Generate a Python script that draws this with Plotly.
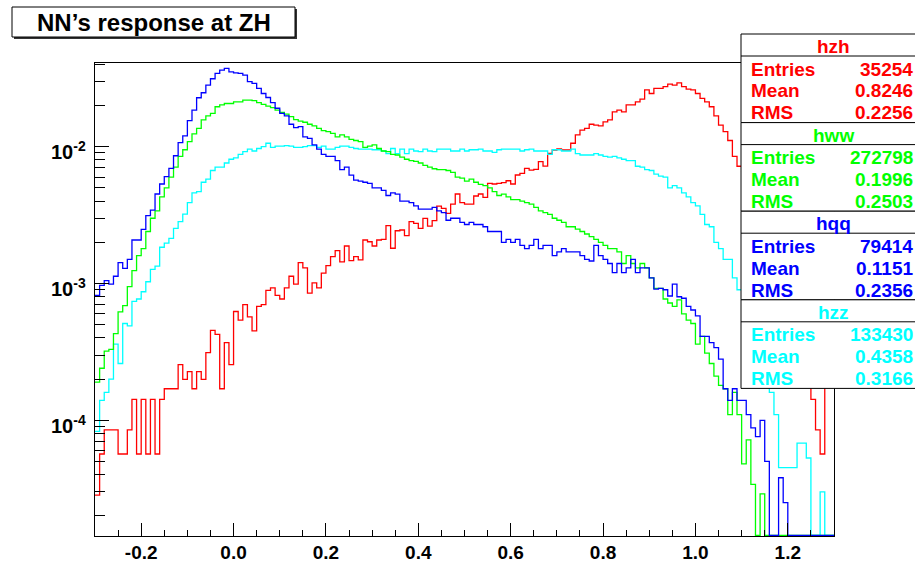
import numpy as np
import plotly.graph_objects as go

# ---------------- data ----------------
X_MIN, X_MAX, N_BINS = -0.3, 1.3, 160

hzh = [
    2.84e-5, 5.67e-5, 8.5e-5, 8.5e-5, 8.5e-5, 5.67e-5, 5.67e-5, 8.5e-5, 1.42e-4, 5.67e-5,
    1.42e-4, 5.67e-5, 1.42e-4, 5.67e-5, 1.42e-4, 1.70e-4, 1.70e-4, 1.70e-4, 2.55e-4, 1.99e-4,
    2.27e-4, 1.70e-4, 2.27e-4, 1.99e-4, 3.12e-4, 4.54e-4, 4.25e-4, 1.70e-4, 3.69e-4, 2.55e-4,
    6.24e-4, 5.39e-4, 7.0e-4, 5.7e-4, 4.5e-4, 6.8e-4, 7.0e-4, 8.9e-4, 9.3e-4, 8.2e-4,
    7.7e-4, 9.3e-4, 1.13e-3, 9.9e-4, 1.42e-3, 1.30e-3, 8.5e-4, 1.01e-3, 9.3e-4, 1.19e-3,
    1.35e-3, 1.57e-3, 1.74e-3, 1.44e-3, 1.88e-3, 1.47e-3, 1.57e-3, 1.49e-3, 2.08e-3, 2.02e-3,
    1.88e-3, 2.08e-3, 2.10e-3, 2.65e-3, 1.81e-3, 2.43e-3, 2.46e-3, 2.24e-3, 2.83e-3, 2.75e-3,
    2.53e-3, 2.99e-3, 2.63e-3, 2.88e-3, 3.68e-3, 3.54e-3, 3.26e-3, 3.81e-3, 4.51e-3, 3.90e-3,
    3.81e-3, 3.81e-3, 4.36e-3, 4.51e-3, 4.26e-3, 5.40e-3, 5.34e-3, 5.40e-3, 5.46e-3, 5.64e-3,
    5.34e-3, 6.21e-3, 6.38e-3, 6.94e-3, 6.75e-3, 6.83e-3, 7.77e-3, 7.22e-3, 8.94e-3, 9.46e-3,
    9.62e-3, 9.46e-3, 9.46e-3, 1.06e-2, 1.22e-2, 1.32e-2, 1.36e-2, 1.46e-2, 1.44e-2, 1.42e-2,
    1.52e-2, 1.57e-2, 1.80e-2, 1.85e-2, 1.80e-2, 2.02e-2, 2.02e-2, 2.13e-2, 2.23e-2, 2.60e-2,
    2.45e-2, 2.67e-2, 2.67e-2, 2.75e-2, 2.87e-2, 2.82e-2, 2.93e-2, 2.75e-2, 2.64e-2, 2.60e-2,
    2.45e-2, 2.26e-2, 2.13e-2, 1.96e-2, 1.68e-2, 1.44e-2, 1.29e-2, 1.11e-2, 8.5e-3, 7.2e-3,
    6.0e-3, 5.0e-3, 4.1e-3, 3.3e-3, 2.6e-3, 2.0e-3, 1.6e-3, 1.2e-3, 9.0e-4, 7.1e-4,
    5.4e-4, 4.3e-4, 3.4e-4, 2.8e-4, 1.99e-4, 1.42e-4, 8.5e-5, 5.67e-5, 2.27e-4, 2.84e-4,
]

hww = [
    1.9e-4, 2.4e-4, 3.2e-4, 3.3e-4, 4.3e-4, 6.2e-4, 6.9e-4, 9.5e-4, 1.24e-3, 1.6e-3,
    1.8e-3, 2.4e-3, 3.0e-3, 3.4e-3, 4.3e-3, 5.0e-3, 6.0e-3, 7.1e-3, 8.5e-3, 9.5e-3,
    1.09e-2, 1.24e-2, 1.36e-2, 1.57e-2, 1.68e-2, 1.75e-2, 1.96e-2, 2.02e-2, 2.07e-2, 2.07e-2,
    2.13e-2, 2.13e-2, 2.19e-2, 2.19e-2, 2.17e-2, 2.10e-2, 2.04e-2, 1.98e-2, 1.93e-2, 1.85e-2,
    1.78e-2, 1.73e-2, 1.66e-2, 1.58e-2, 1.54e-2, 1.51e-2, 1.46e-2, 1.42e-2, 1.36e-2, 1.31e-2,
    1.29e-2, 1.25e-2, 1.18e-2, 1.22e-2, 1.18e-2, 1.13e-2, 1.11e-2, 1.09e-2, 9.9e-3, 1.01e-2,
    1.03e-2, 9.7e-3, 9.3e-3, 9.2e-3, 8.8e-3, 8.7e-3, 8.4e-3, 8.1e-3, 7.9e-3, 7.8e-3,
    7.6e-3, 7.3e-3, 7.1e-3, 6.9e-3, 6.8e-3, 6.8e-3, 6.7e-3, 6.5e-3, 6.0e-3, 5.9e-3,
    5.6e-3, 5.8e-3, 5.5e-3, 5.3e-3, 5.2e-3, 5.0e-3, 4.7e-3, 4.4e-3, 4.5e-3, 4.3e-3,
    4.1e-3, 4.1e-3, 4.0e-3, 3.9e-3, 3.8e-3, 3.6e-3, 3.4e-3, 3.3e-3, 3.2e-3, 3.0e-3,
    2.9e-3, 2.8e-3, 2.6e-3, 2.6e-3, 2.5e-3, 2.4e-3, 2.3e-3, 2.2e-3, 2.1e-3, 2.0e-3,
    1.9e-3, 1.8e-3, 1.8e-3, 1.7e-3, 1.4e-3, 1.6e-3, 1.4e-3, 1.3e-3, 1.4e-3, 1.3e-3,
    1.1e-3, 9.2e-4, 9.2e-4, 7.7e-4, 7.2e-4, 6.8e-4, 7.6e-4, 6.0e-4, 5.4e-4, 5.1e-4,
    3.6e-4, 4.1e-4, 3.1e-4, 2.6e-4, 2.1e-4, 1.8e-4, 1.7e-4, 1.1e-4, 1.6e-4, 1.1e-4,
    4.8e-5, 7.2e-5, 3.4e-5, 0, 2.9e-5, 0, 0, 0, 0, 0,
    0, 0, 0, 0, 0, 0, 0, 0, 0, 0,
]

hqq = [
    8.2e-4, 9.7e-4, 1.05e-3, 9.9e-4, 1.13e-3, 1.42e-3, 1.29e-3, 1.50e-3, 2.08e-3, 2.08e-3,
    2.49e-3, 3.13e-3, 3.44e-3, 4.51e-3, 5.34e-3, 6.04e-3, 6.94e-3, 8.59e-3, 1.07e-2, 1.20e-2,
    1.55e-2, 1.85e-2, 2.28e-2, 2.48e-2, 2.82e-2, 3.14e-2, 3.44e-2, 3.63e-2, 3.74e-2, 3.53e-2,
    3.47e-2, 3.44e-2, 3.34e-2, 2.99e-2, 2.90e-2, 2.67e-2, 2.45e-2, 2.29e-2, 2.10e-2, 1.91e-2,
    1.75e-2, 1.68e-2, 1.46e-2, 1.38e-2, 1.40e-2, 1.18e-2, 1.15e-2, 1.03e-2, 9.6e-3, 8.8e-3,
    8.5e-3, 8.5e-3, 7.9e-3, 6.8e-3, 7.1e-3, 6.2e-3, 5.7e-3, 5.6e-3, 5.5e-3, 5.4e-3,
    5.0e-3, 5.0e-3, 4.8e-3, 4.4e-3, 4.6e-3, 4.5e-3, 4.0e-3, 4.0e-3, 3.9e-3, 3.7e-3,
    3.5e-3, 3.5e-3, 3.5e-3, 3.6e-3, 3.4e-3, 3.3e-3, 2.9e-3, 3.0e-3, 3.0e-3, 2.8e-3,
    2.7e-3, 2.8e-3, 2.7e-3, 2.7e-3, 2.6e-3, 2.4e-3, 2.4e-3, 2.4e-3, 2.0e-3, 2.1e-3,
    2.0e-3, 2.1e-3, 1.9e-3, 1.8e-3, 1.9e-3, 2.1e-3, 1.8e-3, 1.9e-3, 1.9e-3, 1.6e-3,
    1.7e-3, 1.8e-3, 1.7e-3, 1.7e-3, 1.7e-3, 1.6e-3, 1.5e-3, 1.46e-3, 1.9e-3, 1.6e-3,
    1.5e-3, 1.4e-3, 1.2e-3, 1.4e-3, 1.2e-3, 1.3e-3, 1.5e-3, 1.2e-3, 1.3e-3, 1.3e-3,
    1.1e-3, 9.1e-4, 9.2e-4, 9.0e-4, 8.1e-4, 9.9e-4, 8.0e-4, 7.8e-4, 6.8e-4, 6.4e-4,
    5.8e-4, 4.1e-4, 4.1e-4, 3.7e-4, 3.4e-4, 2.8e-4, 1.7e-4, 1.4e-4, 1.7e-4, 1.4e-4,
    1.4e-4, 1.1e-4, 8.8e-5, 7.6e-5, 1.0e-4, 5.0e-5, 0, 0, 3.8e-5, 2.5e-5,
    0, 0, 0, 0, 0, 0, 0, 0, 0, 0,
]

hzz = [
    8.3e-5, 1.4e-4, 1.6e-4, 2.0e-4, 3.6e-4, 2.6e-4, 5.1e-4, 4.9e-4, 7.4e-4, 7.7e-4,
    8.7e-4, 1.03e-3, 1.27e-3, 1.34e-3, 1.84e-3, 1.97e-3, 2.14e-3, 2.53e-3, 2.83e-3, 3.22e-3,
    3.9e-3, 4.6e-3, 4.7e-3, 5.5e-3, 5.8e-3, 6.7e-3, 7.1e-3, 7.1e-3, 7.6e-3, 8.1e-3,
    8.3e-3, 8.8e-3, 9.2e-3, 9.6e-3, 9.3e-3, 9.7e-3, 1.00e-2, 1.06e-2, 9.9e-3, 1.01e-2,
    1.01e-2, 1.02e-2, 1.01e-2, 9.9e-3, 9.9e-3, 1.00e-2, 1.02e-2, 1.02e-2, 9.9e-3, 1.01e-2,
    9.6e-3, 9.6e-3, 9.9e-3, 1.01e-2, 1.01e-2, 9.9e-3, 9.7e-3, 9.6e-3, 9.6e-3, 9.6e-3,
    9.5e-3, 9.5e-3, 9.3e-3, 8.9e-3, 9.7e-3, 8.9e-3, 9.6e-3, 8.9e-3, 9.6e-3, 9.3e-3,
    9.2e-3, 9.6e-3, 9.3e-3, 9.2e-3, 9.6e-3, 9.6e-3, 9.6e-3, 9.3e-3, 9.3e-3, 9.6e-3,
    9.3e-3, 9.5e-3, 9.5e-3, 9.6e-3, 9.3e-3, 9.3e-3, 9.1e-3, 9.5e-3, 9.6e-3, 9.6e-3,
    9.6e-3, 9.6e-3, 9.3e-3, 9.5e-3, 9.6e-3, 9.3e-3, 9.3e-3, 9.3e-3, 8.8e-3, 9.5e-3,
    9.5e-3, 9.3e-3, 9.3e-3, 9.6e-3, 8.9e-3, 8.7e-3, 8.7e-3, 8.7e-3, 8.9e-3, 8.7e-3,
    8.5e-3, 8.4e-3, 8.5e-3, 8.3e-3, 8.1e-3, 7.9e-3, 7.9e-3, 7.2e-3, 7.1e-3, 6.8e-3,
    6.7e-3, 6.3e-3, 6.1e-3, 6.0e-3, 5.0e-3, 5.2e-3, 5.0e-3, 4.6e-3, 4.3e-3, 3.9e-3,
    3.7e-3, 3.2e-3, 2.7e-3, 2.6e-3, 2.0e-3, 1.8e-3, 1.5e-3, 1.5e-3, 1.1e-3, 9.0e-4,
    7.6e-4, 6.0e-4, 4.8e-4, 3.6e-4, 2.8e-4, 2.1e-4, 1.6e-4, 1.1e-4, 4.5e-5, 4.5e-5,
    4.5e-5, 4.5e-5, 6.8e-5, 6.8e-5, 5.3e-5, 0, 0, 3.0e-5, 0, 0,
]

hist_names = ["hzh", "hww", "hqq", "hzz"]
hist_colors = ["#ff0000", "#00ff00", "#0000ff", "#00ffff"]
hist_entries = [35254, 272798, 79414, 133430]
hist_mean = [0.8246, 0.1996, 0.1151, 0.4358]
hist_rms = [0.2256, 0.2503, 0.2356, 0.3166]

x_tick_vals = [-0.2, 0.0, 0.2, 0.4, 0.6, 0.8, 1.0, 1.2]
x_tick_text = ["-0.2", "0.0", "0.2", "0.4", "0.6", "0.8", "1.0", "1.2"]
y_tick_vals = [1e-4, 1e-3, 1e-2]
y_tick_text = ["10<sup>-4</sup>", "10<sup>-3</sup>", "10<sup>-2</sup>"]
title_text = "NN\u2019s response at ZH"

# ---------------- figure ----------------
W, H = 915, 562
PLOT_L, PLOT_R, PLOT_T, PLOT_B = 95, 834, 63, 536
ML, MR, MT, MB = PLOT_L, W - PLOT_R, PLOT_T, H - PLOT_B
Y_RANGE = [-4.846, -1.388]
FONT = "Liberation Sans, Arial, Helvetica, sans-serif"

series = {"hzh": hzh, "hww": hww, "hqq": hqq, "hzz": hzz}
edges = np.linspace(X_MIN, X_MAX, N_BINS + 1)
floor_val = 10 ** (Y_RANGE[0] + 0.004)

fig = go.Figure()
for name in ["hzh", "hzz", "hww", "hqq"]:
    i = hist_names.index(name)
    vals = np.asarray(series[name], dtype=float)
    disp = np.where(vals > 0, vals, floor_val)
    y = np.append(disp, disp[-1])
    fig.add_trace(go.Scatter(
        x=edges, y=y, mode="lines",
        line=dict(color=hist_colors[i], width=1.3, shape="hv"),
        showlegend=False, hoverinfo="skip",
    ))

minor_y = [m * 10.0 ** e for e in range(-5, -1) for m in range(2, 10)]

fig.update_layout(
    width=W, height=H,
    margin=dict(l=ML, r=MR, t=MT, b=MB, autoexpand=False),
    paper_bgcolor="white", plot_bgcolor="white",
    showlegend=False,
    xaxis=dict(
        range=[X_MIN, X_MAX], tickmode="array", tickvals=x_tick_vals, ticktext=x_tick_text,
        ticks="inside", ticklen=13, tickwidth=1, tickcolor="black",
        showline=True, linecolor="black", linewidth=1, mirror=True,
        showgrid=False, zeroline=False, automargin=False,
        minor=dict(dtick=0.05, tick0=0, ticks="inside", ticklen=6, tickwidth=1,
                   tickcolor="black", showgrid=False),
        tickfont=dict(family=FONT, size=19, color="black", weight="bold"),
        ticklabelstandoff=-1,
    ),
    yaxis=dict(
        type="log", range=Y_RANGE, tickmode="array", tickvals=y_tick_vals,
        ticks="inside", ticklen=14, tickwidth=1, tickcolor="black",
        showline=True, linecolor="black", linewidth=1, mirror=True,
        showgrid=False, zeroline=False, automargin=False, showticklabels=False,
        minor=dict(tickmode="array", tickvals=minor_y, ticks="inside", ticklen=10,
                   tickwidth=1, tickcolor="black", showgrid=False),
    ),
)

PW, PH = W - ML - MR, H - MT - MB


def fx(px):
    return (px - ML) / PW


def fy(py):
    return (H - MB - py) / PH


shapes = []
annotations = []

# y tick labels (10^n), placed like the ROOT labels
for v, t in zip(y_tick_vals, y_tick_text):
    annotations.append(dict(xref="paper", yref="y", x=0, y=np.log10(v), text=t,
                            showarrow=False, xanchor="right", yanchor="middle",
                            xshift=-7, yshift=-4,
                            font=dict(family=FONT, size=20, color="black", weight="bold")))

# title box with shadow
shapes.append(dict(type="rect", xref="paper", yref="paper",
                   x0=fx(14), x1=fx(297), y0=fy(39), y1=fy(9),
                   fillcolor="#333333", line=dict(width=0), layer="above"))
shapes.append(dict(type="rect", xref="paper", yref="paper",
                   x0=fx(12), x1=fx(295), y0=fy(37), y1=fy(7),
                   fillcolor="white", line=dict(color="black", width=1), layer="above"))
annotations.append(dict(xref="paper", yref="paper", x=fx(154), y=fy(22.5),
                        text=title_text, showarrow=False, xanchor="center", yanchor="middle",
                        font=dict(family=FONT, size=24, color="black", weight="bold")))

# stats boxes
BOX_L, BOX_R, BOX_TOP0, BOX_H = 741, 926, 34, 88.6
for i, name in enumerate(hist_names):
    top = BOX_TOP0 + BOX_H * i
    bot = top + BOX_H
    col = hist_colors[i]
    shapes.append(dict(type="rect", xref="paper", yref="paper",
                       x0=fx(BOX_L), x1=fx(BOX_R), y0=fy(bot), y1=fy(top),
                       fillcolor="white", line=dict(color="black", width=1), layer="above"))
    shapes.append(dict(type="line", xref="paper", yref="paper",
                       x0=fx(BOX_L), x1=fx(BOX_R), y0=fy(top + 22), y1=fy(top + 22),
                       line=dict(color="black", width=1), layer="above"))
    annotations.append(dict(xref="paper", yref="paper", x=fx((BOX_L + BOX_R) / 2), y=fy(top + 12.5),
                            text=name, showarrow=False, xanchor="center", yanchor="middle",
                            font=dict(family=FONT, size=19, color=col, weight="bold")))
    rows = [("Entries", f"{hist_entries[i]}"),
            ("Mean", f"{hist_mean[i]:.4f}"),
            ("RMS", f"{hist_rms[i]:.4f}")]
    for j, (lab, val) in enumerate(rows):
        yc = top + 35 + 21.9 * j
        annotations.append(dict(xref="paper", yref="paper", x=fx(BOX_L + 8), y=fy(yc),
                                text=lab, showarrow=False, xanchor="left", yanchor="middle",
                                font=dict(family=FONT, size=19, color=col, weight="bold")))
        annotations.append(dict(xref="paper", yref="paper", x=fx(915), y=fy(yc),
                                text=val, showarrow=False, xanchor="right", yanchor="middle",
                                font=dict(family=FONT, size=19, color=col, weight="bold")))

fig.update_layout(shapes=shapes, annotations=annotations)
fig.write_html(
    "out.html",
    config={"displayModeBar": False},
    post_script="document.body.style.margin='0';document.body.style.overflow='hidden';",
)
